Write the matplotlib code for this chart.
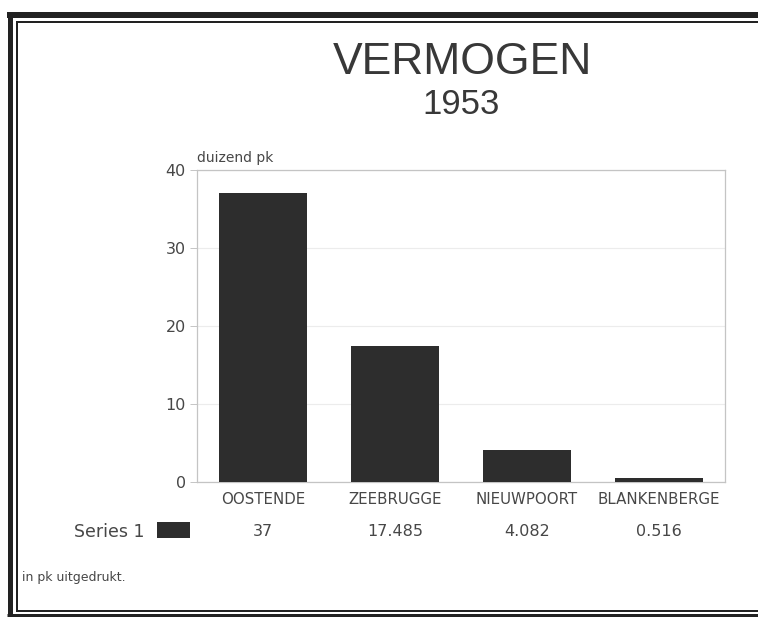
import matplotlib
matplotlib.use("Agg")
import matplotlib.pyplot as plt
from matplotlib.lines import Line2D
from matplotlib.patches import Rectangle
import matplotlib.transforms as mtransforms

categories = ["OOSTENDE", "ZEEBRUGGE", "NIEUWPOORT", "BLANKENBERGE"]
values = [37, 17.485, 4.082, 0.516]
value_labels = ["37", "17.485", "4.082", "0.516"]
yticks = [0, 10, 20, 30, 40]
series_name = "Series 1"
title = "VERMOGEN"
subtitle = "1953"
ylabel = "duizend pk"
footnote = "in pk uitgedrukt."

W, H = 758, 617
plt.rcParams['font.family'] = ['DejaVu Sans']
title_font = ['Liberation Sans', 'DejaVu Sans']
text_col = '#474747'
bar_col = '#2d2d2d'

fig = plt.figure(figsize=(W / 100, H / 100), dpi=100)
fig.patch.set_facecolor('white')

def fx(px):
    return px / W

def fy(py):
    return 1 - py / H

ax = fig.add_axes([fx(197), fy(482), (725 - 197) / W, (482 - 170) / H])
x = list(range(len(categories)))
ax.bar(x, values, width=0.667, color=bar_col, zorder=3)
ax.set_xlim(-0.5, len(categories) - 0.5)
ax.set_ylim(0, 40)
ax.set_yticks(yticks)
ax.set_yticklabels([str(t) for t in yticks], fontsize=11.5, color=text_col)
ax.set_xticks(x)
ax.set_xticklabels(categories, fontsize=10.8, color=text_col)
ax.tick_params(axis='x', length=0, pad=7)
ax.tick_params(axis='y', length=5, width=0.6, color='#bbbbbb', pad=3)
for s in ax.spines.values():
    s.set_color('#c4c4c4')
    s.set_linewidth(0.9)
ax.yaxis.grid(True, color='#ececec', linewidth=0.8, zorder=0)
ax.set_axisbelow(True)

ax.text(0, 1.015, ylabel, transform=ax.transAxes, ha='left', va='bottom',
        fontsize=10, color=text_col)

fig.text(fx(462), fy(62), title, ha='center', va='center', fontsize=32,
         color='#383838', family=title_font)
fig.text(fx(461), fy(104), subtitle, ha='center', va='center', fontsize=25,
         color='#383838', family=title_font)

# table row beneath the chart
trans = mtransforms.blended_transform_factory(ax.transData, fig.transFigure)
for xi, lab in zip(x, value_labels):
    ax.text(xi, fy(532), lab, transform=trans, ha='center', va='center',
            fontsize=11.5, color=text_col, clip_on=False)
fig.text(fx(144), fy(532), series_name, ha='right', va='center', fontsize=12.5, color=text_col)
fig.add_artist(Rectangle((fx(157), fy(538)), (190 - 157) / W, 16 / H,
                         transform=fig.transFigure, facecolor=bar_col, edgecolor='none'))
fig.text(fx(22), fy(578), footnote, ha='left', va='center', fontsize=9, color=text_col)

# frame border
def hline(y, x0, x1, lw_px, col='#222222'):
    fig.add_artist(Line2D([fx(x0), fx(x1)], [fy(y), fy(y)], transform=fig.transFigure,
                          color=col, linewidth=lw_px * 0.72, solid_capstyle='butt'))

def vline(xp, y0, y1, lw_px, col='#222222'):
    fig.add_artist(Line2D([fx(xp), fx(xp)], [fy(y0), fy(y1)], transform=fig.transFigure,
                          color=col, linewidth=lw_px * 0.72, solid_capstyle='butt'))

hline(15, 7, W, 6)
vline(9.5, 12, 617, 5)
hline(22, 16, W, 2)
vline(17, 21, 612, 2)
hline(611, 16, W, 2)
hline(615, 7, W, 3)

fig.savefig("out.png", dpi=100, facecolor='white')
